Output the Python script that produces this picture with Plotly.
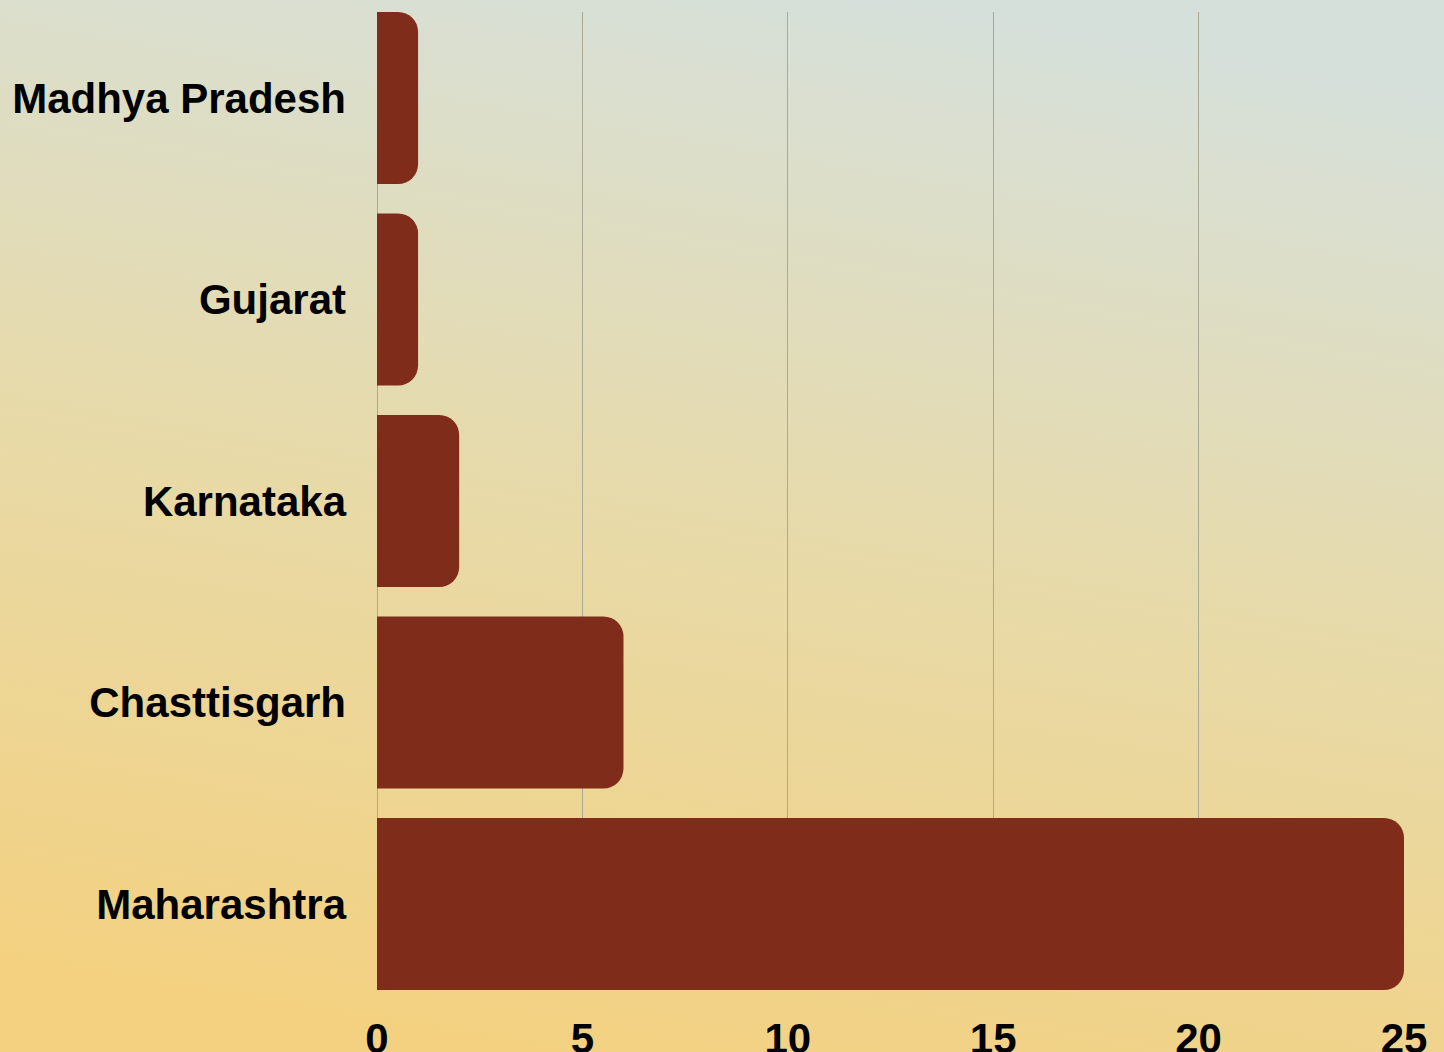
import plotly.graph_objects as go
import urllib.parse

states = ["Maharashtra", "Chasttisgarh", "Karnataka", "Gujarat", "Madhya Pradesh"]
values = [25, 6, 2, 1, 1]
x_ticks = [0, 5, 10, 15, 20, 25]

W, H = 1444, 1052
L, R, T, B = 377, 40, 12, 62
pw, ph = W - L - R, H - T - B

svg = (
    "<svg xmlns='http://www.w3.org/2000/svg' width='100' height='100' preserveAspectRatio='none'>"
    "<defs><linearGradient id='g' x1='0.62' y1='0' x2='0.38' y2='1'>"
    "<stop offset='0' stop-color='#d6e0da'/>"
    "<stop offset='0.5' stop-color='#e7daa9'/>"
    "<stop offset='1' stop-color='#f3d181'/>"
    "</linearGradient></defs>"
    "<rect width='100' height='100' fill='url(#g)'/></svg>"
)
src = "data:image/svg+xml;charset=utf-8," + urllib.parse.quote(svg)

fig = go.Figure(
    go.Bar(
        x=values,
        y=states,
        orientation="h",
        marker=dict(color="#7f2c1b", line=dict(width=0)),
        width=0.854,
        hoverinfo="x+y",
    )
)

fig.update_layout(
    width=W,
    height=H,
    autosize=False,
    margin=dict(l=L, r=R, t=T, b=B, pad=0, autoexpand=False),
    paper_bgcolor="#e7daa9",
    plot_bgcolor="rgba(0,0,0,0)",
    barcornerradius=20,
    showlegend=False,
    font=dict(family="Liberation Sans, Arial, sans-serif", size=42, color="#000000"),
    images=[
        dict(
            source=src,
            xref="paper",
            yref="paper",
            x=-L / pw,
            y=1 + T / ph,
            sizex=W / pw,
            sizey=H / ph,
            xanchor="left",
            yanchor="top",
            sizing="stretch",
            layer="below",
        )
    ],
    xaxis=dict(
        range=[0, 25],
        tickvals=x_ticks,
        ticktext=[str(v) for v in x_ticks],
        automargin=False,
        showgrid=True,
        gridcolor="#aaa996",
        gridwidth=1,
        zeroline=True,
        zerolinecolor="#aaa996",
        zerolinewidth=1,
        showline=False,
        tickfont=dict(family="Liberation Sans, Arial, sans-serif", size=42, color="#000000", weight="bold"),
        ticklabelstandoff=20,
        fixedrange=True,
    ),
    yaxis=dict(
        range=[-0.427, 4.427],
        automargin=False,
        showgrid=False,
        zeroline=False,
        showline=False,
        tickfont=dict(family="Liberation Sans, Arial, sans-serif", size=42, color="#000000", weight="bold"),
        ticklabelstandoff=30,
        fixedrange=True,
    ),
)

fig.write_html(
    "out.html",
    config={"displayModeBar": False},
    post_script="document.body.style.margin='0';document.body.style.overflow='hidden';",
)
